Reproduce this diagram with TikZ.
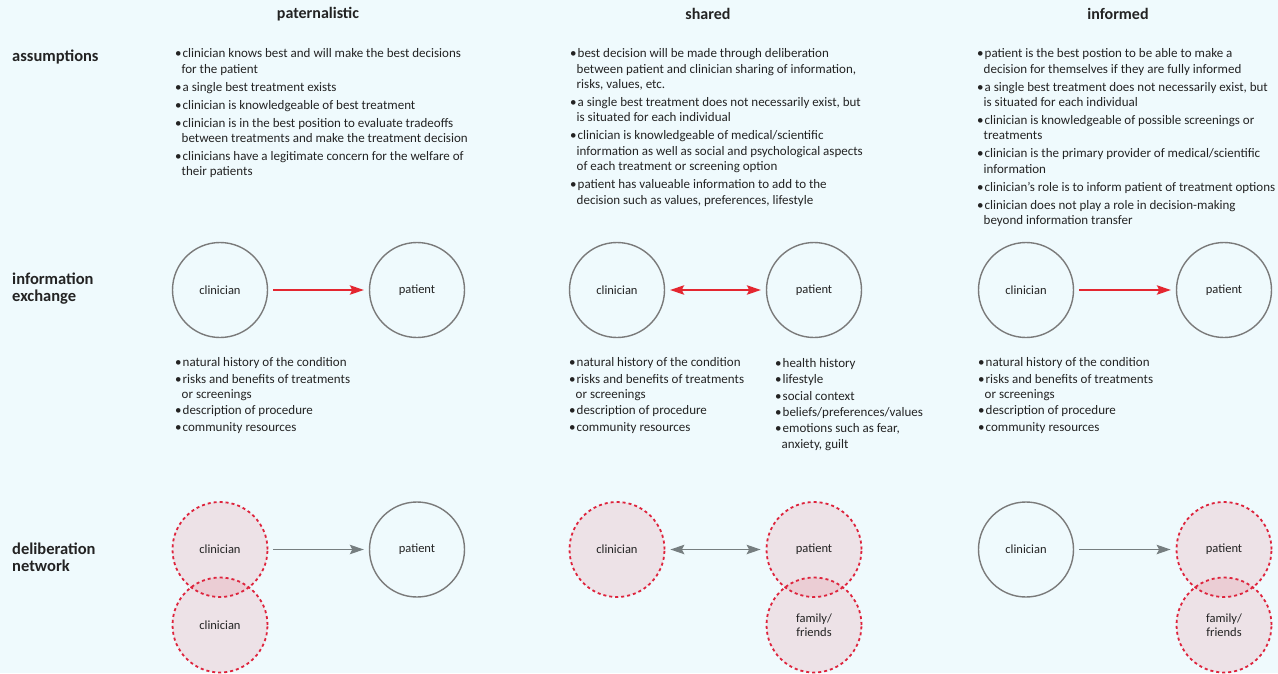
\documentclass[tikz,border=0pt]{standalone}
\usepackage{fontspec}
\setmainfont{Carlito}
\usetikzlibrary{arrows.meta}
\definecolor{bgcol}{RGB}{239,250,253}
\definecolor{ringgray}{RGB}{122,122,122}
\definecolor{dashred}{RGB}{222,35,60}
\definecolor{arrred}{RGB}{228,38,48}
\definecolor{arrgray}{RGB}{118,126,128}
\definecolor{txt}{RGB}{35,35,35}
\newcommand{\bul}{\makebox[7.5pt][l]{\textbullet}}
\newcommand{\cont}{\hspace*{6.5pt}}
\tikzset{>={Stealth[length=14pt,width=9.5pt,inset=2.5pt]}}
\tikzstyle{vertexg}=[circle,draw=ringgray,line width=1.4pt,minimum size=95pt,inner sep=0pt,align=center,text=txt,font=\fontsize{12.5}{13.4}\selectfont]
\tikzstyle{vertexd}=[circle,draw=dashred,line width=1.8pt,dash pattern=on 3pt off 3pt,fill=dashred,fill opacity=0.11,draw opacity=1,text opacity=1,minimum size=95pt,inner sep=0pt,align=center,text=txt,font=\fontsize{12.5}{13.4}\selectfont]
\tikzstyle{listtext}=[anchor=north west,inner sep=0pt,align=left,text=txt,font=\fontsize{13}{15.4}\selectfont,execute at begin node=\strut]
\tikzstyle{rowlabel}=[anchor=west,inner sep=0pt,align=left,text=txt,font=\bfseries\fontsize{16.5}{17}\selectfont]
\tikzstyle{colhead}=[inner sep=0pt,text=txt,font=\bfseries\fontsize{16}{16}\selectfont]
\tikzstyle{arrowred}=[draw=arrred,fill=arrred,line width=1.3pt,->,shorten <=5pt,shorten >=5pt]
\tikzstyle{arrowgray}=[draw=arrgray,fill=arrgray,line width=1.3pt,->,shorten <=5pt,shorten >=5pt]

\begin{document}
\begin{tikzpicture}[x=1pt,y=-1pt]
    \fill[bgcol] (0,0) rectangle (1278,673);
    \useasboundingbox (0,0) rectangle (1278,673);

    % column and row headings
    \node[colhead] (hpat) at (318,14) {paternalistic};
    \node[colhead] (hsha) at (708,14) {shared};
    \node[colhead] (hinf) at (1118,14) {informed};
    \node[rowlabel] (rass) at (12,57) {assumptions};
    \node[rowlabel] (rinf) at (12,288.5) {information\\exchange};
    \node[rowlabel] (rdel) at (12,557) {deliberation\\network};

    % assumptions
    \node[listtext] (apat) at (175,48.5) {\bul clinician knows best and will make the best decisions\\\cont for the patient\\[2.6pt]
        \bul a single best treatment exists\\[2.6pt]
        \bul clinician is knowledgeable of best treatment\\[2.6pt]
        \bul clinician is in the best position to evaluate tradeoffs\\\cont between treatments and make the treatment decision\\[2.6pt]
        \bul clinicians have a legitimate concern for the welfare of\\\cont their patients};
    \node[listtext] (asha) at (570,48.5) {\bul best decision will be made through deliberation\\\cont between patient and clinician sharing of information,\\\cont risks, values, etc.\\[2.6pt]
        \bul a single best treatment does not necessarily exist, but\\\cont is situated for each individual\\[2.6pt]
        \bul clinician is knowledgeable of medical/scientific\\\cont information as well as social and psychological aspects\\\cont of each treatment or screening option\\[2.6pt]
        \bul patient has valueable information to add to the\\\cont decision such as values, preferences, lifestyle};
    \node[listtext] (ainf) at (977,48.5) {\bul patient is the best postion to be able to make a\\\cont decision for themselves if they are fully informed\\[2.6pt]
        \bul a single best treatment does not necessarily exist, but\\\cont is situated for each individual\\[2.6pt]
        \bul clinician is knowledgeable of possible screenings or\\\cont treatments\\[2.6pt]
        \bul clinician is the primary provider of medical/scientific\\\cont information\\[2.6pt]
        \bul clinician’s role is to inform patient of treatment options\\[2.6pt]
        \bul clinician does not play a role in decision-making\\\cont beyond information transfer};

    % information exchange
    \node[vertexg] (c1) at (220,290) {clinician};
    \node[vertexg] (p1) at (417,290) {patient};
    \node[vertexg] (c2) at (617,290) {clinician};
    \node[vertexg] (p2) at (814,290) {patient};
    \node[vertexg] (c3) at (1026,290) {clinician};
    \node[vertexg] (p3) at (1224,290) {patient};

    \foreach \from/\to in {c1/p1,c3/p3}
    \draw[arrowred] (\from) -- (\to);
    \draw[arrowred,<->] (c2) -- (p2);

    \node[listtext] (ipat) at (175,357.5) {\bul natural history of the condition\\[1pt]
        \bul risks and benefits of treatments\\\cont or screenings\\[1pt]
        \bul description of procedure\\[1pt]
        \bul community resources};
    \node[listtext] (isha) at (569,357.5) {\bul natural history of the condition\\[1pt]
        \bul risks and benefits of treatments\\\cont or screenings\\[1pt]
        \bul description of procedure\\[1pt]
        \bul community resources};
    \node[listtext] (ishp) at (775,358) {\bul health history\\[1pt]
        \bul lifestyle\\[1pt]
        \bul social context\\[1pt]
        \bul beliefs/preferences/values\\[1pt]
        \bul emotions such as fear,\\\cont anxiety, guilt};
    \node[listtext] (iinf) at (978,357.5) {\bul natural history of the condition\\[1pt]
        \bul risks and benefits of treatments\\\cont or screenings\\[1pt]
        \bul description of procedure\\[1pt]
        \bul community resources};

    % deliberation network
    \node[vertexd] (c4) at (220,549.5) {clinician};
    \node[vertexd] (c5) at (220,625) {clinician};
    \node[vertexg] (p4) at (417,549.5) {patient};
    \node[vertexd] (c6) at (617,549.5) {clinician};
    \node[vertexd] (p6) at (814,549.5) {patient};
    \node[vertexd] (f6) at (814,625) {family/\\friends};
    \node[vertexg] (c7) at (1026,549.5) {clinician};
    \node[vertexd] (p7) at (1224,549.5) {patient};
    \node[vertexd] (f7) at (1224,625) {family/\\friends};

    \foreach \from/\to in {c4/p4,c7/p7}
    \draw[arrowgray] (\from) -- (\to);
    \draw[arrowgray,<->] (c6) -- (p6);
\end{tikzpicture}
\end{document}
